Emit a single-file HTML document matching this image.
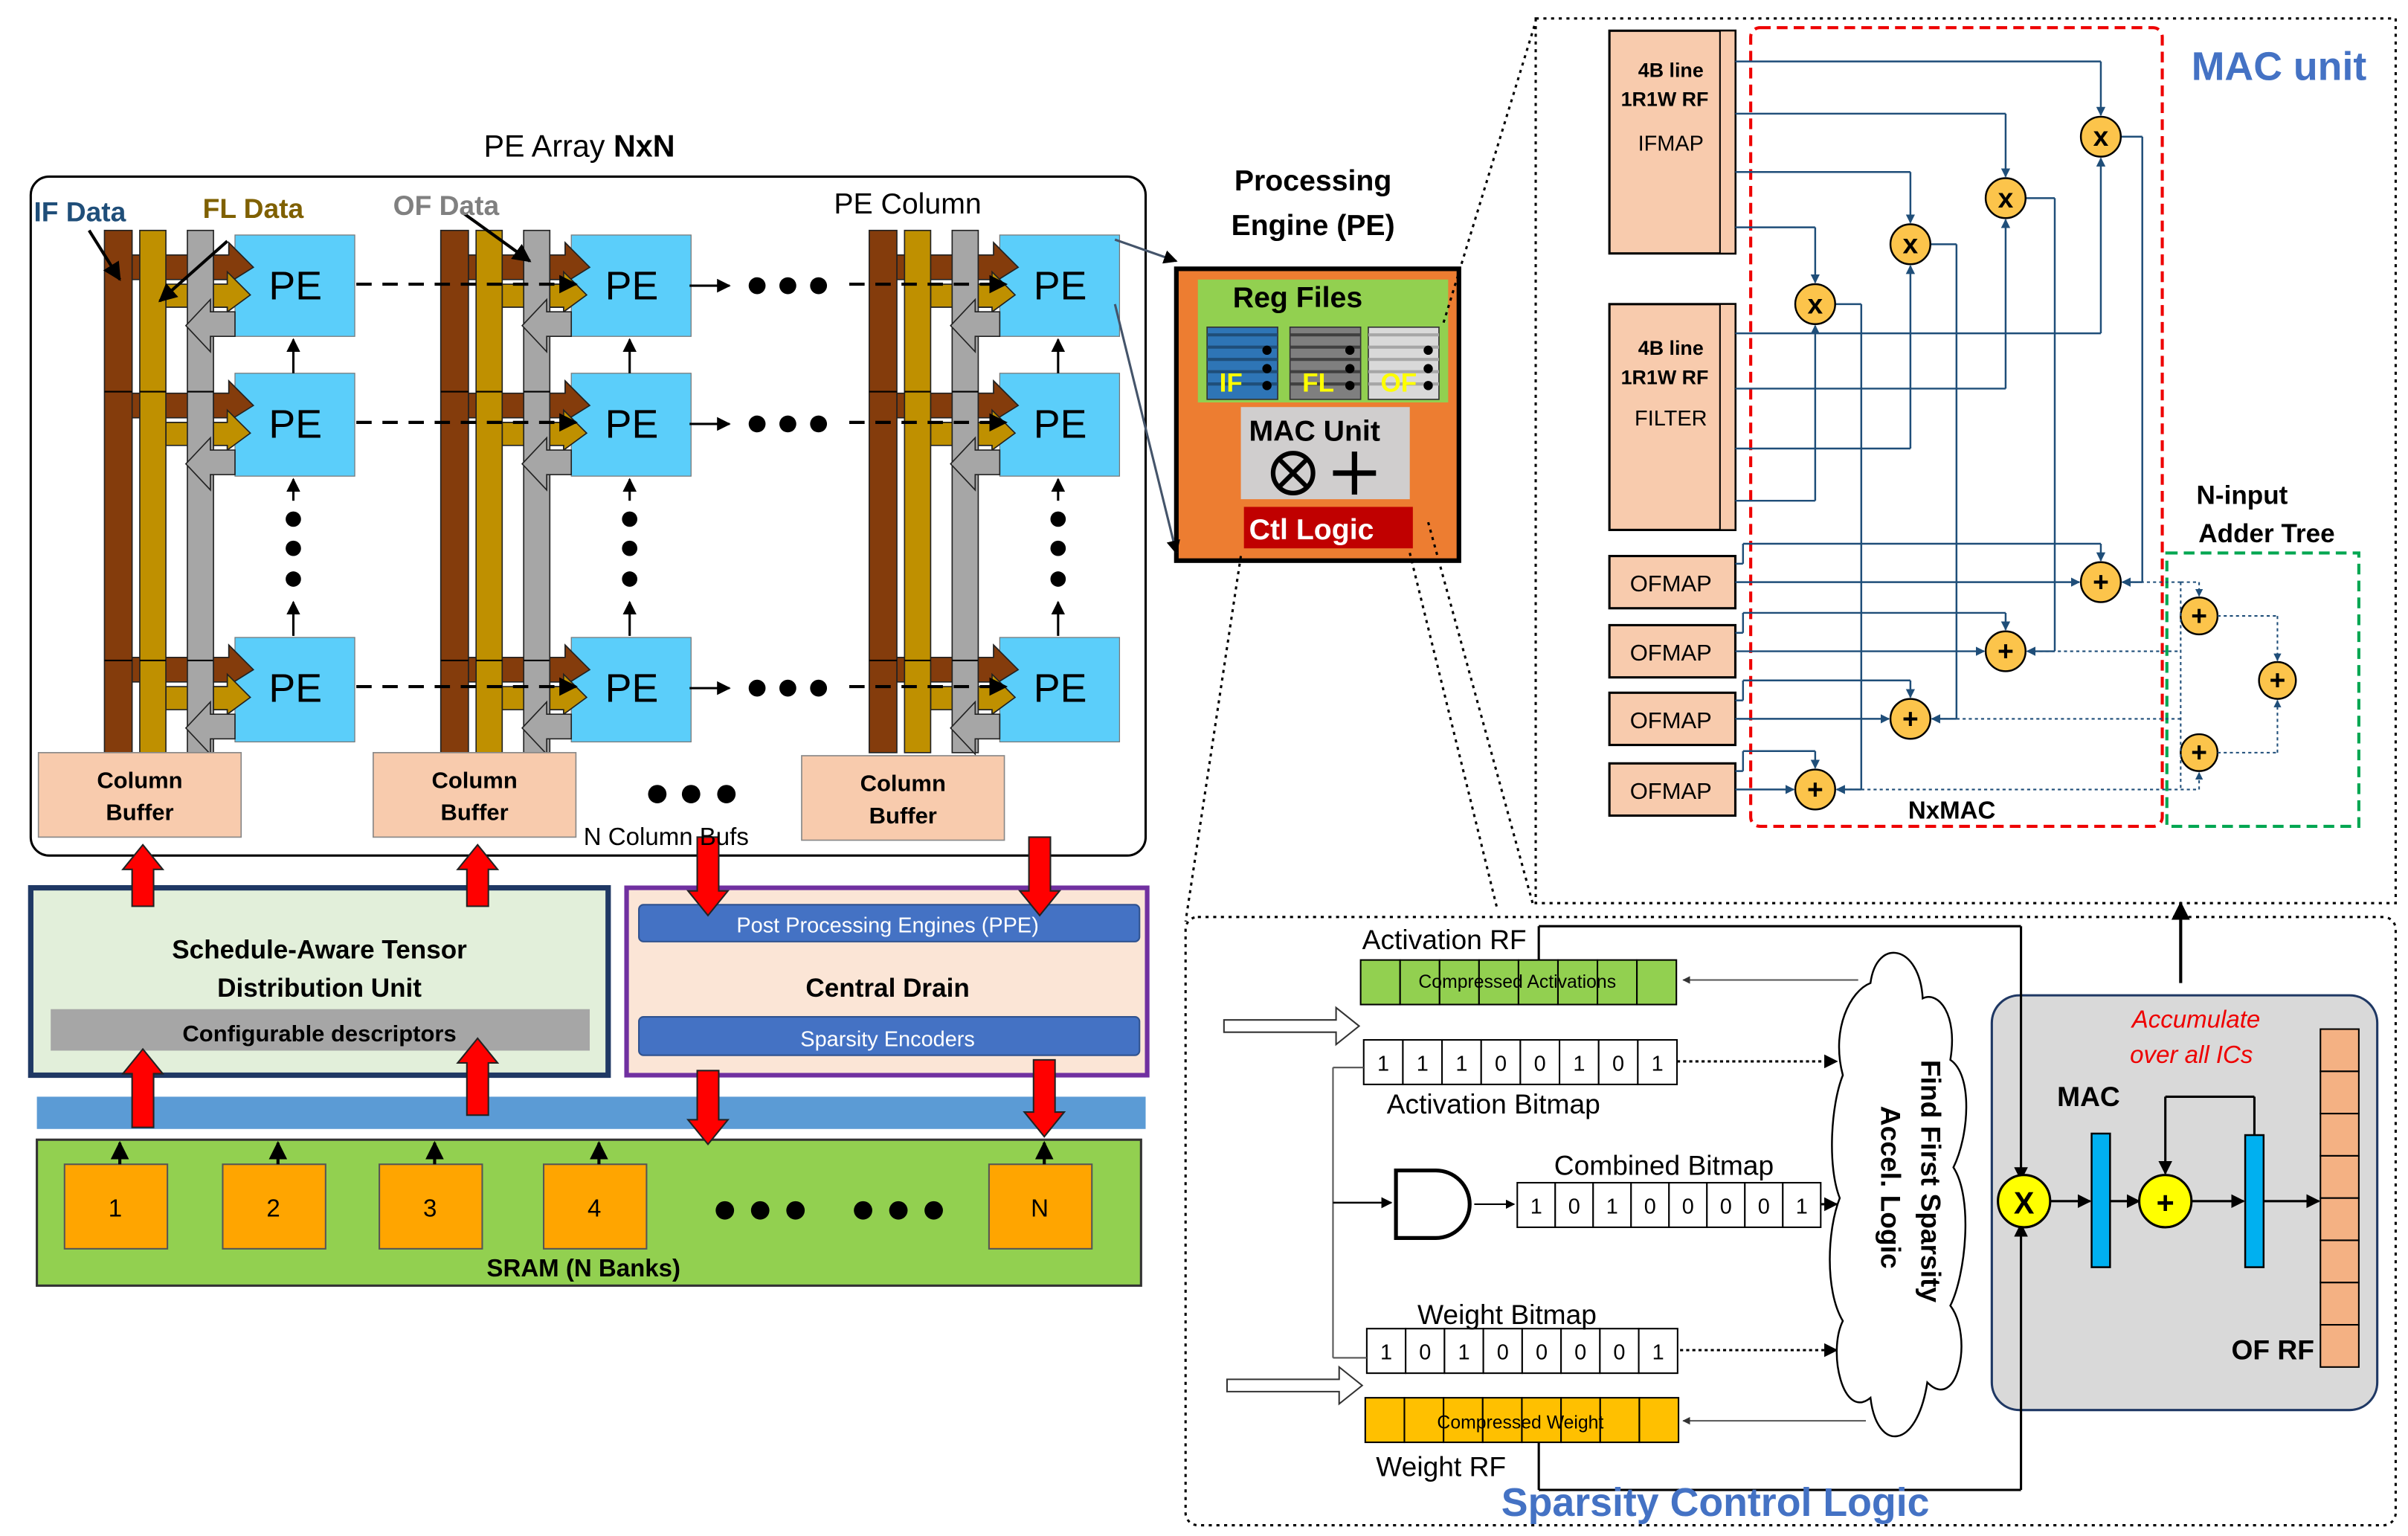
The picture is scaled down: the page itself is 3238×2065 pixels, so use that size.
<!DOCTYPE html>
<html><head><meta charset="utf-8"><style>
html,body{margin:0;padding:0;background:#fff}
svg{display:block}
text{font-family:"Liberation Sans","DejaVu Sans",sans-serif}
</style></head><body>
<svg id="s" width="3238" height="2065" viewBox="0 0 1568 1000" xmlns="http://www.w3.org/2000/svg">
<defs>
<marker id="ah" viewBox="0 0 10 10" refX="9" refY="5" markerWidth="6" markerHeight="6" orient="auto"><path d="M0,0L10,5L0,10z" fill="#000"/></marker>
<marker id="ahb" viewBox="0 0 10 10" refX="9" refY="5" markerWidth="5" markerHeight="5" orient="auto"><path d="M0,0L10,5L0,10z" fill="#1f4e79"/></marker>
<marker id="ahg" viewBox="0 0 10 10" refX="9" refY="5" markerWidth="5" markerHeight="5" orient="auto"><path d="M0,0L10,5L0,10z" fill="#333"/></marker>
</defs>
<g id="g"></g>
<text x="315" y="102" font-size="20">PE Array <tspan font-weight="bold">NxN</tspan></text>
<text x="22" y="144" font-size="18" font-weight="bold" fill="#1f4e79">IF Data</text>
<text x="132" y="142" font-size="18" font-weight="bold" fill="#7f6000">FL Data</text>
<text x="256" y="140" font-size="18" font-weight="bold" fill="#808080">OF Data</text>
<text x="543" y="139" font-size="19">PE Column</text>
<text x="380" y="550" font-size="16">N Column Bufs</text>
<text x="208" y="624" font-size="17" font-weight="bold" text-anchor="middle">Schedule-Aware Tensor</text>
<text x="208" y="649" font-size="17" font-weight="bold" text-anchor="middle">Distribution Unit</text>
<text x="208" y="678" font-size="15" font-weight="bold" text-anchor="middle">Configurable descriptors</text>
<text x="578" y="607" font-size="14" fill="#fff" text-anchor="middle">Post Processing Engines (PPE)</text>
<text x="578" y="649" font-size="17" font-weight="bold" text-anchor="middle">Central Drain</text>
<text x="578" y="681" font-size="14" fill="#fff" text-anchor="middle">Sparsity Encoders</text>
<text x="380" y="831" font-size="16" font-weight="bold" text-anchor="middle">SRAM  (N Banks)</text>
<text x="855" y="124" font-size="19" font-weight="bold" text-anchor="middle">Processing</text>
<text x="855" y="153" font-size="19" font-weight="bold" text-anchor="middle">Engine (PE)</text>
<text x="845" y="200" font-size="19" font-weight="bold" text-anchor="middle">Reg Files</text>
<text x="856" y="287" font-size="19" font-weight="bold" text-anchor="middle">MAC Unit</text>
<text x="854" y="351" font-size="19" font-weight="bold" fill="#fff" text-anchor="middle">Ctl Logic</text>
<text x="1484" y="52" font-size="26" font-weight="bold" fill="#4472c4" text-anchor="middle">MAC unit</text>
<text x="1088" y="50" font-size="13" font-weight="bold" text-anchor="middle">4B line</text>
<text x="1084" y="69" font-size="13" font-weight="bold" text-anchor="middle">1R1W RF</text>
<text x="1088" y="98" font-size="14" text-anchor="middle">IFMAP</text>
<text x="1088" y="231" font-size="13" font-weight="bold" text-anchor="middle">4B line</text>
<text x="1084" y="250" font-size="13" font-weight="bold" text-anchor="middle">1R1W RF</text>
<text x="1088" y="277" font-size="14" text-anchor="middle">FILTER</text>
<text x="1460" y="328" font-size="17" font-weight="bold" text-anchor="middle">N-input</text>
<text x="1476" y="353" font-size="17" font-weight="bold" text-anchor="middle">Adder Tree</text>
<text x="1271" y="533" font-size="16" font-weight="bold" text-anchor="middle">NxMAC</text>
<text x="887" y="618" font-size="18">Activation RF</text>
<text x="903" y="725" font-size="18">Activation Bitmap</text>
<text x="1012" y="765" font-size="18">Combined Bitmap</text>
<text x="923" y="862" font-size="18">Weight Bitmap</text>
<text x="896" y="961" font-size="18">Weight RF</text>
<text x="1117" y="987" font-size="26" font-weight="bold" fill="#4472c4" text-anchor="middle">Sparsity Control Logic</text>
<text x="1430" y="669" font-size="16" font-style="italic" fill="#e00" text-anchor="middle">Accumulate</text>
<text x="1427" y="692" font-size="16" font-style="italic" fill="#e00" text-anchor="middle">over all ICs</text>
<text x="1360" y="720" font-size="18" font-weight="bold" text-anchor="middle">MAC</text>
<text x="1480" y="885" font-size="18" font-weight="bold" text-anchor="middle">OF RF</text>
<text transform="translate(1251,690) rotate(90)" font-size="18" font-weight="bold">Find First  Sparsity</text>
<text transform="translate(1225,720) rotate(90)" font-size="18" font-weight="bold">Accel. Logic</text>
</svg>
<script>
const g=document.getElementById('g');let h='';
function R(x,y,w,hh,f,s,sw,extra){h+=`<rect x="${x}" y="${y}" width="${w}" height="${hh}" fill="${f}" stroke="${s||'none'}" stroke-width="${sw||1}" ${extra||''}/>`;}
function L(x1,y1,x2,y2,s,sw,extra){h+=`<line x1="${x1}" y1="${y1}" x2="${x2}" y2="${y2}" stroke="${s}" stroke-width="${sw||1}" ${extra||''}/>`;}
function P(d,f,s,sw,extra){h+=`<path d="${d}" fill="${f}" stroke="${s||'none'}" stroke-width="${sw||1}" ${extra||''}/>`;}
function T(x,y,t,sz,extra){h+=`<text x="${x}" y="${y}" font-size="${sz}" ${extra||''}>${t}</text>`;}
function C(x,y,r,f,s,sw){h+=`<circle cx="${x}" cy="${y}" r="${r}" fill="${f}" stroke="${s||'none'}" stroke-width="${sw||1}"/>`;}
R(20,115,726,442,'#fff','#000',1.5,'rx="12"');
const BR='#843c0c',GD='#bf9000',GY='#a6a6a6',PB='#5bcefa';
const dxs=[0,219,498], rows=[[153,219],[243,310],[415,483]];
function brown(x0,y0,pe){return `M${x0},${y0+13}H${pe-4}V${y0+5}L${pe+12},${y0+21}L${pe-4},${y0+31}V${y0+29}H${x0}z`;}
function gold(x0,y0,pe){return `M${x0},${y0+32}H${pe-5}V${y0+24}L${pe+10},${y0+39}L${pe-5},${y0+50}V${y0+47}H${x0}z`;}
dxs.forEach((dx,ci)=>{
 const bx=68+dx, pe=153+dx;
 rows.forEach(([y0])=>{P(brown(bx+18,y0,pe),BR,'#222',0.8);P(gold(bx+40,y0,pe),GD,'#222',0.8);});
 R(bx,150,18,340,BR,'#222',0.8);
 R(bx+23,150,17,340,GD,'#222',0.8);
 R(bx+54,150,17,340,GY,'#222',0.8);
 [255,430].forEach(y=>{L(bx,y,bx+18,y,'#000',1);L(bx+23,y,bx+40,y,'#000',1);L(bx+54,y,bx+71,y,'#000',1);});
 rows.forEach(([y0,y1],ri)=>{
  R(pe,y0,78,y1-y0,PB,'#777',0.6);
  P(brown(bx+71,y0,pe),BR,'#222',0.8);P(gold(bx+71,y0,pe),GD,'#222',0.8);
  P(`M${pe},${y0+50}H${pe-16}V${y0+42}L${pe-32},${y0+59}L${pe-16},${y0+76}V${y0+66}H${pe}z`,GY,'#222',0.8);
  T(pe+22,y0+42,'PE',26);
 });
 L(pe+38,243,pe+38,221,'#000',1.5,'marker-end="url(#ah)"');
 [338,357,377].forEach(y=>C(pe+38,y,5,'#000'));
 L(pe+38,414,pe+38,392,'#000',1.5,'marker-end="url(#ah)"');
 L(pe+38,326,pe+38,312,'#000',1.5,'marker-end="url(#ah)"');
});
rows.forEach(([y0])=>{
 L(232,y0+32,375,y0+32,'#000',2,'stroke-dasharray="10,7" marker-end="url(#ah)"');
 L(449,y0+33,475,y0+33,'#000',1.5,'marker-end="url(#ah)"');
 [493,513,533].forEach(x=>C(x,y0+33,5.5,'#000'));
 L(553,y0+32,655,y0+32,'#000',2,'stroke-dasharray="10,7" marker-end="url(#ah)"');
});
L(58,150,78,182,'#000',2,'marker-end="url(#ah)"');
L(148,157,104,196,'#000',2,'marker-end="url(#ah)"');
L(302,139,345,170,'#000',2,'marker-end="url(#ah)"');
[[25,490],[243,490],[522,492]].forEach(([x,y])=>{R(x,y,132,55,'#f8cbad','#888',0.8);T(x+66,y+23,'Column',15,'font-weight="bold" text-anchor="middle"');T(x+66,y+44,'Buffer',15,'font-weight="bold" text-anchor="middle"');});
[428,450,473].forEach(x=>C(x,517,6,'#000'));
R(20,578,376,122,'#e2efda','#1f3864',3.5);
R(33,657,351,27,'#a6a6a6');
R(408,578,339,122,'#fbe5d6','#7030a0',3);
R(416,589,326,24,'#4472c4','#2f528f',1,'rx="3"');
R(416,662,326,25,'#4472c4','#2f528f',1,'rx="3"');
R(24,714,722,21,'#5b9bd5');
R(24,742,719,95,'#92d050','#333',1.5);
[[42,'1'],[145,'2'],[247,'3'],[354,'4'],[644,'N']].forEach(([x,t])=>{R(x,758,67,55,'#ffa500','#555',1);T(x+33,792,t,16,'text-anchor="middle"');
 L(x+36,758,x+36,744,'#000',2,'marker-end="url(#ah)"');});
[472,495,518,562,585,608].forEach(x=>C(x,788,6,'#000'));
function RA(x,y1,y2){const up=y2<y1;const d=up?1:-1;const hy=y2+d*16;P(`M${x-7},${y1}V${hy}H${x-13}L${x},${y2}L${x+13},${hy}H${x+7}V${y1}z`,'#ff0000','#222',1);}
RA(93,590,550);RA(311,590,550);RA(93,734,683);RA(311,726,676);
RA(461,545,596);RA(677,545,596);RA(461,697,745);RA(680,690,740);
R(766,175,184,190,'#ed7d31','#000',3);
R(780,182,163,80,'#92d050');
[[786,'#1f4e79','#2e75b6','IF','#ffff00'],[840,'#404040','#7f7f7f','FL','#ffff00'],[891,'#a6a6a6','#d9d9d9','OF','#ffff00']].forEach(([x,c1,c2,t,tc])=>{
 R(x,213,46,47,c2,'#333',0.8);for(let i=0;i<5;i++)L(x,218+i*8,x+46,218+i*8,c1,2);
 T(x+8,255,t,17,`font-weight="bold" fill="${tc}"`);[228,240,251].forEach(y=>C(x+39,y,3,'#000'));});
R(808,265,110,60,'#d0cece');
C(842,308,13,'none','#000',3);L(833,299,851,317,'#000',3);L(851,299,833,317,'#000',3);
L(868,308,896,308,'#000',3.5);L(882,294,882,322,'#000',3.5);
R(810,330,110,27,'#c00000');
L(726,156,766,170,'#44546a',1.5,'marker-end="url(#ah)"');
L(726,198,766,360,'#44546a',1.5,'marker-end="url(#ah)"');
L(940,210,1000,14,'#000',1.5,'stroke-dasharray="2,3"');
L(930,340,998,588,'#000',1.5,'stroke-dasharray="2,3"');
L(918,360,975,592,'#000',1.5,'stroke-dasharray="2,3"');
L(808,362,772,600,'#000',1.5,'stroke-dasharray="2,3"');
R(1000,12,560,576,'none','#000',1.5,'stroke-dasharray="2,3"');
R(1140,18,268,520,'none','#e00',2,'stroke-dasharray="7,4" rx="6"');
R(1411,360,125,178,'none','#00a651',2,'stroke-dasharray="7,4"');
R(1048,20,82,145,'#f8cbad','#000',1.5);R(1120,20,10,145,'#f8cbad','#000',1);
R(1048,198,82,147,'#f8cbad','#000',1.5);R(1120,198,10,147,'#f8cbad','#000',1);
const B='#1f4e79';
const mul=[[1368,89],[1306,129],[1244,159],[1182,198]];
const add=[[1368,379],[1306,424],[1244,468],[1182,514]];
[[40,1368],[74,1306],[112,1244],[148,1182]].forEach(([y,x])=>{L(1130,y,x,y,B,1.2);L(x,y,x,(mul.find(m=>m[0]==x)[1])-14,B,1.2,'marker-end="url(#ahb)"');});
[[217,1368],[253,1306],[292,1244],[326,1182]].forEach(([y,x])=>{const my=mul.find(m=>m[0]==x)[1];L(1130,y,x,y,B,1.2);L(x,y,x,my+14,B,1.2,'marker-end="url(#ahb)"');});
mul.forEach(([x,y],i)=>{const xo=[1395,1338,1274,1212][i];L(x+13,y,xo,y,B,1.2);L(xo,y,xo,add[i][1],B,1.2);L(xo,add[i][1],add[i][0]+14,add[i][1],B,1.2,'marker-end="url(#ahb)"');});
[362,407,451,497].forEach((y,i)=>{R(1048,y,82,34,'#f8cbad','#000',1.5);T(1088,y+23,'OFMAP',15,'text-anchor="middle"');
 const [ax,ay]=add[i];L(1130,y+17,ax-14,y+17,B,1.2,'marker-end="url(#ahb)"');
 L(1130,y+5,1135,y+5,B,1.2);L(1135,y-8,ax,y-8,B,1.2);L(ax,y-8,ax,ay-14,B,1.2,'marker-end="url(#ahb)"');L(1135,y-8,1135,y+5,B,1.2);
 C(ax,ay,13,'#fcc44b','#000',1.2);T(ax,ay+6,'+',18,'text-anchor="middle" font-weight="bold"');});
mul.forEach(([x,y])=>{C(x,y,13,'#fcc44b','#000',1.2);T(x,y+6,'x',18,'text-anchor="middle" font-weight="bold"');});
[[1432,401],[1432,490],[1483,443]].forEach(([x,y])=>{C(x,y,12,'#fcc44b','#000',1.2);T(x,y+6,'+',18,'text-anchor="middle" font-weight="bold"');});
const dd='stroke-dasharray="2,2"';
add.forEach(([x,y],i)=>{L(x+14,y,1420,y,B,1,dd);});
L(1420,379,1420,514,B,1,dd);L(1420,379,1432,379,B,1,dd);L(1432,379,1432,388,B,1,dd+' marker-end="url(#ahb)"');
L(1420,514,1432,514,B,1,dd);L(1432,514,1432,503,B,1,dd+' marker-end="url(#ahb)"');
L(1444,401,1483,401,B,1,dd);L(1483,401,1483,430,B,1,dd+' marker-end="url(#ahb)"');
L(1444,490,1483,490,B,1,dd);L(1483,490,1483,456,B,1,dd+' marker-end="url(#ahb)"');
R(772,597,788,396,'none','#000',1.5,'stroke-dasharray="2,3" rx="8"');
L(1420,640,1420,588,'#000',2,'marker-end="url(#ah)"');
R(1297,648,251,270,'#d9d9d9','#1f3864',1.5,'rx="18"');
for(let i=0;i<8;i++){R(886+i*25.7,625,25.7,29,'#92d050','#000',1);}
T(988,643,'Compressed Activations',12,'text-anchor="middle"');
L(1002,625,1002,603,'#000',1.5);L(1002,603,1316,603,'#000',1.5);L(1316,603,1316,768,'#000',1.5,'marker-end="url(#ah)"');
L(1210,638,1096,638,'#555',1,'marker-end="url(#ahg)"');
function bits(x,y,arr,w){arr.forEach((b,i)=>{R(x+i*w,y,w,29,'#fff','#000',1);T(x+i*w+w/2,y+20,b,14,'text-anchor="middle"');});}
bits(888,677,['1','1','1','0','0','1','0','1'],25.5);
bits(988,770,['1','0','1','0','0','0','0','1'],24.7);
bits(890,865,['1','0','1','0','0','0','0','1'],25.3);
L(1092,691,1196,691,'#000',1.5,'stroke-dasharray="2,2" marker-end="url(#ah)"');
L(1186,784,1196,784,'#000',1.5,'stroke-dasharray="2,2" marker-end="url(#ah)"');
L(1094,879,1196,879,'#000',1.5,'stroke-dasharray="2,2" marker-end="url(#ah)"');
P('M797,664H870V656L885,668L870,680V672H797z','#fff','#333',1);
P('M799,898H872V890L887,902L872,914V906H799z','#fff','#333',1);
L(868,695,888,695,'#555',1);L(868,695,868,884,'#555',1);L(868,884,890,884,'#555',1);
L(868,783,906,783,'#000',1.2,'marker-end="url(#ah)"');
P('M909,762H935A22,22 0 0 1 935,806H909z','#fff','#000',2.5);
L(960,784,986,784,'#000',1,'marker-end="url(#ah)"');
for(let i=0;i<8;i++){R(889+i*25.5,910,25.5,29,'#ffc000','#000',1);}
T(990,930,'Compressed Weight',12,'text-anchor="middle"');
L(1215,925,1096,925,'#555',1,'marker-end="url(#ahg)"');
L(1002,939,1002,970,'#000',1.5);L(1002,970,1316,970,'#000',1.5);L(1316,970,1316,797,'#000',1.5,'marker-end="url(#ah)"');
P('M1218,640C1222,610 1250,615 1252,650C1262,645 1275,660 1270,690C1285,700 1282,740 1272,760C1285,780 1280,830 1270,850C1285,870 1275,920 1255,900C1248,945 1222,945 1218,910C1200,925 1190,880 1200,860C1188,840 1190,800 1198,780C1190,760 1192,720 1200,700C1192,670 1205,645 1218,640z','#fff','#000',1.2);
C(1318,782,17,'#ffff00','#000',1.5);T(1318,790,'X',20,'text-anchor="middle" font-weight="bold"');
L(1335,782,1361,782,'#000',1.5,'marker-end="url(#ah)"');
R(1362,738,12,87,'#00b0f0','#000',1.2);
L(1374,782,1393,782,'#000',1.5,'marker-end="url(#ah)"');
C(1410,782,17,'#ffff00','#000',1.5);T(1410,790,'+',20,'text-anchor="middle" font-weight="bold"');
L(1427,782,1461,782,'#000',1.5,'marker-end="url(#ah)"');
R(1462,739,12,86,'#00b0f0','#000',1.2);
L(1468,739,1468,714,'#000',1.5);L(1468,714,1410,714,'#000',1.5);L(1410,714,1410,764,'#000',1.5,'marker-end="url(#ah)"');
L(1474,782,1510,782,'#000',1.5,'marker-end="url(#ah)"');
for(let i=0;i<8;i++)R(1511,670+i*27.5,25,27.5,'#f4b183','#000',1);
g.innerHTML=h;
</script>
</body></html>
